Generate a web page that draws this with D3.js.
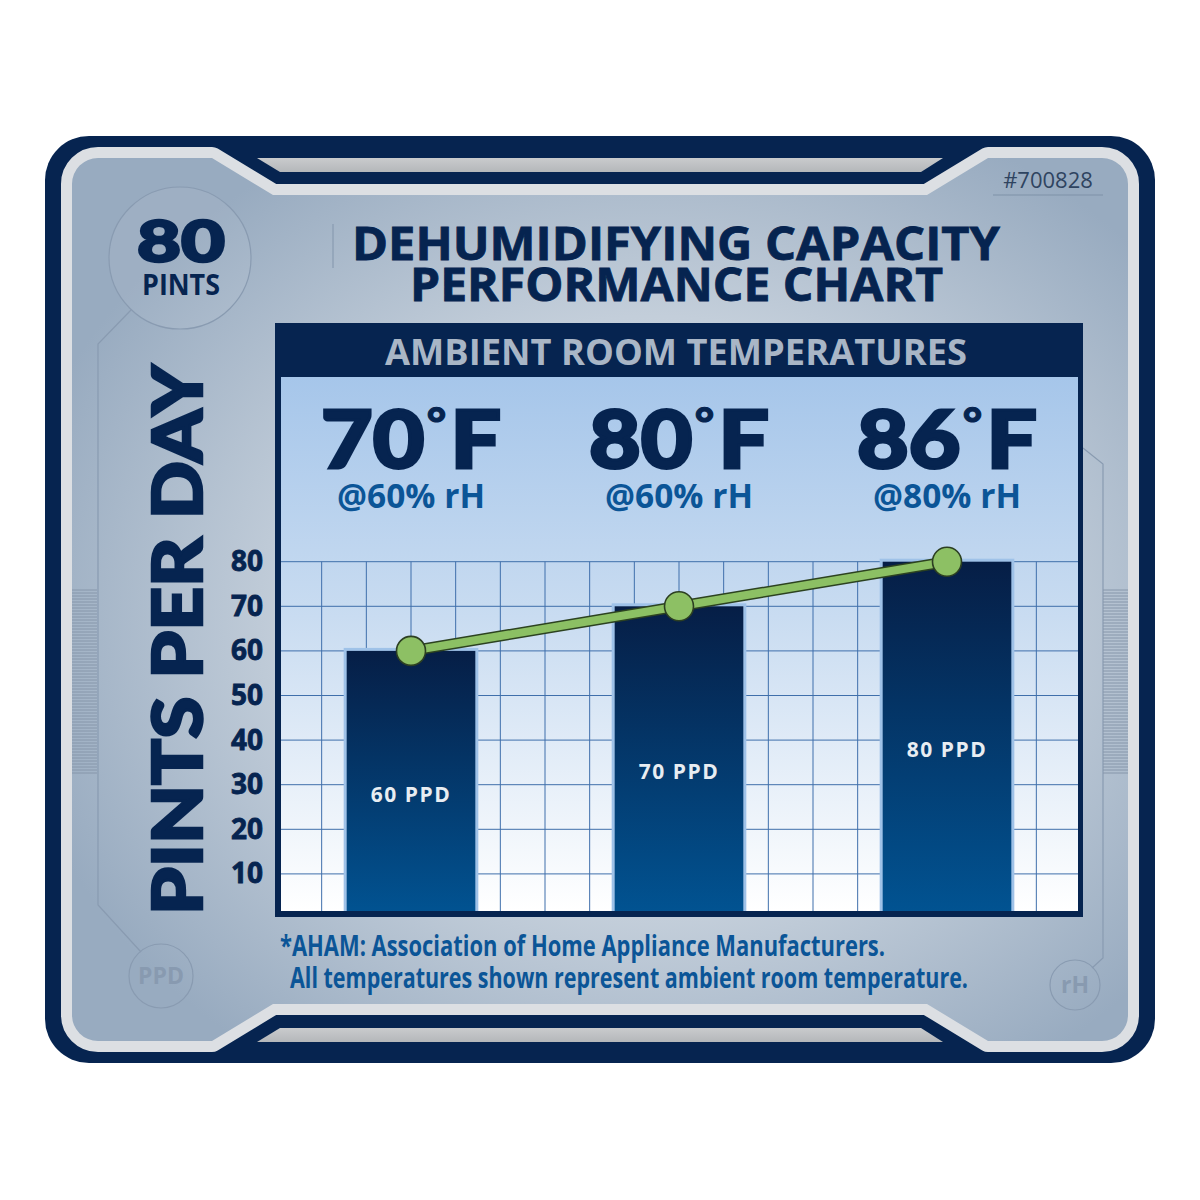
<!DOCTYPE html>
<html>
<head>
<meta charset="utf-8">
<script src="https://cdn.jsdelivr.net/npm/d3@7"></script>
<style>
  html, body { margin: 0; padding: 0; background: #ffffff; }
  svg { display: block; }
</style>
</head>
<body>
<div id="chart"></div>
<script>
// chart data
const categories = ["70°F", "80°F", "86°F"];
const humidity = ["@60% rH", "@60% rH", "@80% rH"];
const ppd = [60, 70, 80];
const barLabels = ["60 PPD", "70 PPD", "80 PPD"];
const yTicks = [10, 20, 30, 40, 50, 60, 70, 80];
const footnotes = [
    "*AHAM: Association of Home Appliance Manufacturers.",
    "All temperatures shown represent ambient room temperature."
];

const width = 1200;
const height = 1200;
const navy = "#062450";
const heavy = "Lato, Roboto, 'Open Sans', sans-serif";
const sans = "'Open Sans', 'Noto Sans', sans-serif";

const svg = d3.select("#chart")
    .append("svg")
    .attr("width", width)
    .attr("height", height);

const defs = svg.append("defs");

const panelGrad = defs.append("radialGradient")
    .attr("id", "panel-grad")
    .attr("cx", "55%").attr("cy", "52%").attr("r", "62%");
panelGrad.append("stop").attr("offset", "0%").attr("stop-color", "#e0e7ee");
panelGrad.append("stop").attr("offset", "55%").attr("stop-color", "#c3ceda");
panelGrad.append("stop").attr("offset", "100%").attr("stop-color", "#98abc0");

const plotGrad = defs.append("linearGradient")
    .attr("id", "plot-grad")
    .attr("x1", 0).attr("y1", 0).attr("x2", 0).attr("y2", 1);
plotGrad.append("stop").attr("offset", "0%").attr("stop-color", "#a6c6ea");
plotGrad.append("stop").attr("offset", "45%").attr("stop-color", "#c9dcf1");
plotGrad.append("stop").attr("offset", "100%").attr("stop-color", "#ffffff");

const barGrad = defs.append("linearGradient")
    .attr("id", "bar-grad")
    .attr("x1", 0).attr("y1", 0).attr("x2", 0).attr("y2", 1);
barGrad.append("stop").attr("offset", "0%").attr("stop-color", "#061e46");
barGrad.append("stop").attr("offset", "100%").attr("stop-color", "#015493");

const greyGrad = defs.append("linearGradient")
    .attr("id", "grey-grad")
    .attr("x1", 0).attr("y1", 0).attr("x2", 0).attr("y2", 1);
greyGrad.append("stop").attr("offset", "0%").attr("stop-color", "#c9cbcd");
greyGrad.append("stop").attr("offset", "100%").attr("stop-color", "#b4b7ba");

// ---- frame ----
svg.append("rect")
    .attr("x", 45).attr("y", 136)
    .attr("width", 1110).attr("height", 927)
    .attr("rx", 44)
    .attr("fill", navy);

function panelPath() {
    const p = d3.path();
    const r = 26;
    p.moveTo(72 + r, 158);
    p.lineTo(212, 158);
    p.lineTo(273, 195);
    p.lineTo(927, 195);
    p.lineTo(988, 158);
    p.arcTo(1128, 158, 1128, 158 + r, r);
    p.arcTo(1128, 1041, 1128 - r, 1041, r);
    p.lineTo(988, 1041);
    p.lineTo(927, 1004);
    p.lineTo(273, 1004);
    p.lineTo(212, 1041);
    p.arcTo(72, 1041, 72, 1041 - r, r);
    p.arcTo(72, 158, 72 + r, 158, r);
    p.closePath();
    return p.toString();
}

svg.append("path")
    .attr("d", panelPath())
    .attr("fill", "#dcdfe3")
    .attr("stroke", "#dcdfe3")
    .attr("stroke-width", 22)
    .attr("stroke-linejoin", "round");

svg.append("path")
    .attr("d", panelPath())
    .attr("fill", "url(#panel-grad)");

// grey bars in the top and bottom notches
svg.append("path")
    .attr("d", "M257,158 L943,158 L921,172 L280,172 Z")
    .attr("fill", "url(#grey-grad)");
svg.append("path")
    .attr("d", "M280,1028 L921,1028 L943,1042 L257,1042 Z")
    .attr("fill", "url(#grey-grad)");

// decorative lines and circles
const deco = svg.append("g")
    .attr("fill", "none")
    .attr("stroke", "#899bb1")
    .attr("stroke-width", 1.2);

deco.append("circle").attr("cx", 180).attr("cy", 258).attr("r", 71)
    .attr("fill", "rgba(255,255,255,0.06)");
deco.append("path").attr("d", "M131,310 L98,344 L98,905 L141,952");
deco.append("circle").attr("cx", 161).attr("cy", 976).attr("r", 32);
deco.append("path").attr("d", "M1083,448 L1103,464 L1103,958 L1092,968");
deco.append("circle").attr("cx", 1075).attr("cy", 985).attr("r", 25);
deco.append("line").attr("x1", 333).attr("x2", 333).attr("y1", 224).attr("y2", 268);
deco.append("line").attr("x1", 993).attr("x2", 1103).attr("y1", 195).attr("y2", 195)
    .attr("stroke", "#7f91a7");

// hatched strips on each side
const hatchRows = d3.range(590, 774, 3);
[[72, 97], [1103, 1128]].forEach(function(xs) {
    svg.append("g")
        .selectAll("line")
        .data(hatchRows)
        .enter().append("line")
        .attr("x1", xs[0]).attr("x2", xs[1])
        .attr("y1", d => d).attr("y2", d => d)
        .attr("stroke", "#8696aa")
        .attr("stroke-width", 1);
});

svg.append("text")
    .attr("x", 161).attr("y", 984)
    .attr("text-anchor", "middle")
    .style("font-family", sans).style("font-weight", 700).style("font-size", "23px")
    .attr("fill", "#889ab0")
    .text("PPD");
svg.append("text")
    .attr("x", 1075).attr("y", 993)
    .attr("text-anchor", "middle")
    .style("font-family", sans).style("font-weight", 700).style("font-size", "23px")
    .attr("fill", "#889ab0")
    .text("rH");

// badge
svg.append("text")
    .attr("x", 181).attr("y", 262)
    .attr("text-anchor", "middle")
    .attr("textLength", 88).attr("lengthAdjust", "spacingAndGlyphs")
    .style("font-family", heavy).style("font-weight", 900).style("font-size", "58px")
    .attr("fill", navy)
    .attr("stroke", navy).attr("stroke-width", 2.5)
    .text("80");
svg.append("text")
    .attr("x", 181).attr("y", 295)
    .attr("text-anchor", "middle")
    .attr("textLength", 78).attr("lengthAdjust", "spacingAndGlyphs")
    .style("font-family", sans).style("font-weight", 700).style("font-size", "28px")
    .attr("fill", navy)
    .text("PINTS");

svg.append("text")
    .attr("x", 1048).attr("y", 188)
    .attr("text-anchor", "middle")
    .style("font-family", sans).style("font-size", "22px")
    .attr("fill", "#2f4460")
    .text("#700828");

// title
svg.append("text")
    .attr("x", 352).attr("y", 260)
    .attr("textLength", 648).attr("lengthAdjust", "spacingAndGlyphs")
    .style("font-family", sans).style("font-weight", 700).style("font-size", "47px")
    .attr("fill", navy)
    .attr("stroke", navy).attr("stroke-width", 0.8)
    .text("DEHUMIDIFYING CAPACITY");
svg.append("text")
    .attr("x", 410).attr("y", 301)
    .attr("textLength", 533).attr("lengthAdjust", "spacingAndGlyphs")
    .style("font-family", sans).style("font-weight", 700).style("font-size", "47px")
    .attr("fill", navy)
    .attr("stroke", navy).attr("stroke-width", 0.8)
    .text("PERFORMANCE CHART");

// ---- chart box ----
svg.append("rect")
    .attr("x", 275).attr("y", 323)
    .attr("width", 808).attr("height", 594)
    .attr("fill", navy);

svg.append("text")
    .attr("x", 385).attr("y", 365)
    .attr("textLength", 582).attr("lengthAdjust", "spacingAndGlyphs")
    .style("font-family", sans).style("font-weight", 700).style("font-size", "35px")
    .attr("fill", "#a9b6c6")
    .text("AMBIENT ROOM TEMPERATURES");

const plot = { x0: 281, x1: 1078, y0: 377, y1: 911 };

svg.append("rect")
    .attr("x", plot.x0).attr("y", plot.y0)
    .attr("width", plot.x1 - plot.x0).attr("height", plot.y1 - plot.y0)
    .attr("fill", "url(#plot-grad)");

defs.append("clipPath").attr("id", "plot-clip")
    .append("rect")
    .attr("x", plot.x0).attr("y", plot.y0)
    .attr("width", plot.x1 - plot.x0).attr("height", plot.y1 - plot.y0);

const x = d3.scaleBand()
    .domain(categories)
    .range([277, 1081])
    .paddingInner(0.52)
    .paddingOuter(0.26);

const y = d3.scaleLinear()
    .domain([0, 80])
    .range([918.5, 561.7]);

const plotG = svg.append("g").attr("clip-path", "url(#plot-clip)");

// grid
const cols = d3.scaleLinear().domain([0, 18]).range([277, 1081]);
plotG.append("g")
    .selectAll("line")
    .data(d3.range(1, 18))
    .enter().append("line")
    .attr("x1", d => cols(d)).attr("x2", d => cols(d))
    .attr("y1", y(80)).attr("y2", plot.y1)
    .attr("stroke", "#3f6fab").attr("stroke-width", 1);
plotG.append("g")
    .selectAll("line")
    .data(yTicks)
    .enter().append("line")
    .attr("x1", plot.x0).attr("x2", plot.x1)
    .attr("y1", d => y(d)).attr("y2", d => y(d))
    .attr("stroke", "#3f6fab").attr("stroke-width", 1);

// bars
plotG.append("g")
    .selectAll("rect")
    .data(ppd)
    .enter().append("rect")
    .attr("x", (d, i) => x(categories[i]) - 3)
    .attr("y", d => y(d) - 3)
    .attr("width", x.bandwidth() + 6)
    .attr("height", d => y(0) - y(d) + 3)
    .attr("fill", "#9fc2e8");

plotG.append("g")
    .selectAll("rect")
    .data(ppd)
    .enter().append("rect")
    .attr("x", (d, i) => x(categories[i]))
    .attr("y", d => y(d))
    .attr("width", x.bandwidth())
    .attr("height", d => y(0) - y(d))
    .attr("fill", "url(#bar-grad)");

svg.append("g")
    .selectAll("text")
    .data(ppd)
    .enter().append("text")
    .attr("x", (d, i) => x(categories[i]) + x.bandwidth() / 2)
    .attr("y", d => (y(d) + y(0)) / 2 + 9)
    .attr("text-anchor", "middle")
    .attr("dominant-baseline", "central")
    .style("font-family", sans).style("font-weight", 700).style("font-size", "21px")
    .style("letter-spacing", "1.5px")
    .attr("fill", "#e8edf2")
    .text((d, i) => barLabels[i]);

// trend line
const cx = (d, i) => x(categories[i]) + x.bandwidth() / 2;
const line = d3.line().x(cx).y(d => y(d));

svg.append("path")
    .datum(ppd)
    .attr("d", line)
    .attr("fill", "none")
    .attr("stroke", "#2c4220")
    .attr("stroke-width", 11);
svg.append("path")
    .datum(ppd)
    .attr("d", line)
    .attr("fill", "none")
    .attr("stroke", "#8cc064")
    .attr("stroke-width", 8);
svg.append("g")
    .selectAll("circle")
    .data(ppd)
    .enter().append("circle")
    .attr("cx", cx)
    .attr("cy", d => y(d))
    .attr("r", 14.5)
    .attr("fill", "#8dc064")
    .attr("stroke", "#2c3f22")
    .attr("stroke-width", 1.6);

// temperature headings, with a small raised degree mark
const temps = svg.append("g")
    .selectAll("text")
    .data(categories)
    .enter().append("text")
    .attr("x", d => x(d) + x.bandwidth() / 2)
    .attr("y", 468)
    .attr("text-anchor", "middle")
    .attr("textLength", 180).attr("lengthAdjust", "spacingAndGlyphs")
    .style("font-family", heavy).style("font-weight", 900).style("font-size", "80px")
    .attr("fill", navy)
    .attr("stroke", navy).attr("stroke-width", 3);

temps.append("tspan").text(d => d.split("°")[0]);
temps.append("tspan")
    .attr("dy", -30)
    .attr("dx", 2)
    .style("font-size", "42px")
    .attr("stroke-width", 1)
    .text("°");
temps.append("tspan")
    .attr("dy", 30)
    .attr("dx", 4)
    .text(d => d.split("°")[1]);

svg.append("g")
    .selectAll("text")
    .data(humidity)
    .enter().append("text")
    .attr("x", (d, i) => x(categories[i]) + x.bandwidth() / 2)
    .attr("y", 508)
    .attr("text-anchor", "middle")
    .attr("textLength", 148).attr("lengthAdjust", "spacingAndGlyphs")
    .style("font-family", sans).style("font-weight", 700).style("font-size", "34px")
    .attr("fill", "#0b5597")
    .text(d => d);

// y axis
const yAxis = d3.axisLeft(y)
    .tickValues(yTicks)
    .tickSize(0)
    .tickPadding(0);

svg.append("g")
    .attr("transform", "translate(263,0)")
    .call(yAxis)
    .call(g => g.select(".domain").remove())
    .call(g => g.selectAll("text")
        .attr("fill", navy)
        .attr("stroke", navy)
        .attr("stroke-width", 0.8)
        .style("font-family", sans)
        .style("font-weight", 700)
        .style("font-size", "28px"));

svg.append("text")
    .attr("transform", "translate(202,640) rotate(-90)")
    .attr("text-anchor", "middle")
    .attr("textLength", 550).attr("lengthAdjust", "spacingAndGlyphs")
    .style("font-family", heavy).style("font-weight", 900).style("font-size", "68px")
    .attr("fill", navy)
    .attr("stroke", navy).attr("stroke-width", 2.5)
    .text("PINTS PER DAY");

// footnote
const footX = [280, 290];
const footW = [605, 678];
svg.append("g")
    .selectAll("text")
    .data(footnotes)
    .enter().append("text")
    .attr("x", (d, i) => footX[i])
    .attr("y", (d, i) => 956 + i * 32)
    .attr("textLength", (d, i) => footW[i]).attr("lengthAdjust", "spacingAndGlyphs")
    .style("font-family", sans).style("font-weight", 700).style("font-size", "28px")
    .attr("fill", "#0b5597")
    .text(d => d);
</script>
</body>
</html>
